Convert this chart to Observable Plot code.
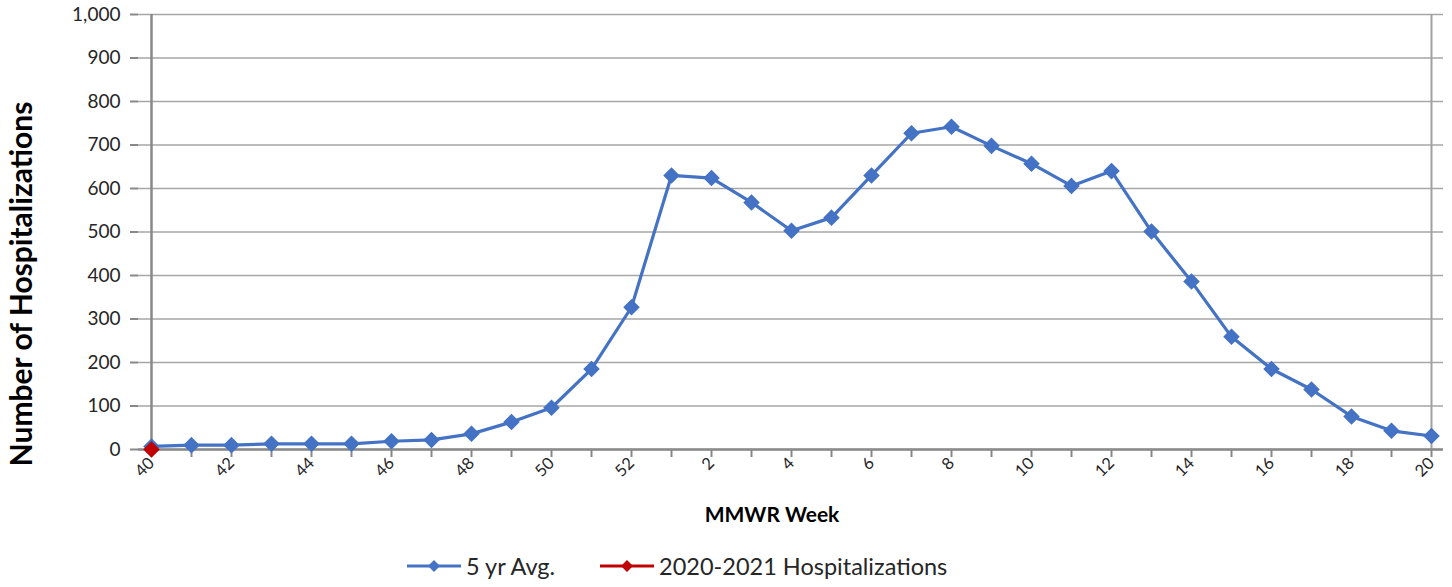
<!DOCTYPE html>
<html>
<head>
<meta charset="utf-8">
<script src="https://cdn.jsdelivr.net/npm/d3@7"></script>
<script src="https://cdn.jsdelivr.net/npm/@observablehq/plot@0.6"></script>
<style>
  html, body { margin: 0; padding: 0; background: #fff; }
  body { width: 1452px; height: 587px; overflow: hidden; font-family: Lato, "Open Sans", sans-serif; }
  #chart { position: relative; }
  #legend { position: absolute; left: 405px; top: 551px; height: 30px; display: flex; align-items: center; font-size: 23.5px; line-height: 30px; color: #262626; white-space: nowrap; }
  .item { display: flex; align-items: center; margin-right: 43px; }
  .item svg { margin-right: 3px; }
</style>
</head>
<body>
<div id="chart"></div>
<div id="legend"></div>
<script>
const weeks = ["40","41","42","43","44","45","46","47","48","49","50","51","52",
  "1","2","3","4","5","6","7","8","9","10","11","12","13","14","15","16","17","18","19","20"];
const avgValues = [7,10,10,13,13,13,19,22,36,63,96,185,327,
  630,624,568,503,533,630,727,742,698,657,606,640,501,386,259,185,138,76,43,31];
const seasonWeeks = ["40"];
const seasonValues = [0];
const yTicks = [0,100,200,300,400,500,600,700,800,900,1000];
const seriesNames = ["5 yr Avg.", "2020-2021 Hospitalizations"];
const seriesColors = ["#4472C4", "#C00000"];

const avgData = weeks.map((w, i) => ({week: w, value: avgValues[i]}));
const seasonData = seasonWeeks.map((w, i) => ({week: w, value: seasonValues[i]}));

const font = "Lato, 'Open Sans', sans-serif";

const plot = Plot.plot({
  width: 1452,
  height: 540,
  marginLeft: 138,
  marginRight: 9,
  marginTop: 14,
  marginBottom: 91,
  style: {fontFamily: font, background: "#fff"},
  x: {type: "point", domain: weeks, padding: 0},
  y: {domain: [0, 1000]},
  marks: [
    Plot.gridY(yTicks, {stroke: "#a6a6a6", strokeOpacity: 1, strokeWidth: 1.3}),
    Plot.ruleX([weeks[weeks.length - 1]], {stroke: "#a0a0a0", strokeWidth: 2}),
    Plot.axisY(yTicks, {tickFormat: d3.format(","), tickSize: 8, tickPadding: 10, fontSize: 19, fill: "#262626", stroke: "#888", strokeWidth: 2, label: null}),
    Plot.axisX(weeks, {tickFormat: d => (+d % 2 === 0 ? d : ""), tickSize: 8, tickPadding: 3, tickRotate: -45, fontSize: 16.5, fill: "#262626", stroke: "#888", strokeWidth: 2, label: null}),
    Plot.ruleY([0], {stroke: "#888", strokeWidth: 2.5}),
    Plot.ruleX([weeks[0]], {stroke: "#888", strokeWidth: 2.5}),
    Plot.line(avgData, {x: "week", y: "value", stroke: seriesColors[0], strokeWidth: 3.2}),
    Plot.dot(avgData, {x: "week", y: "value", symbol: "diamond2", r: 6.5, fill: seriesColors[0], stroke: seriesColors[0]}),
    Plot.line(seasonData, {x: "week", y: "value", stroke: seriesColors[1], strokeWidth: 3.2}),
    Plot.dot(seasonData, {x: "week", y: "value", symbol: "diamond2", r: 6.5, fill: seriesColors[1], stroke: seriesColors[1]}),
    Plot.text(["Number of Hospitalizations"], {frameAnchor: "left", textAnchor: "middle", dx: -116, dy: 52, rotate: -90, fontSize: 30, fontWeight: "bold", fill: "#000"}),
    Plot.text(["MMWR Week"], {frameAnchor: "bottom", textAnchor: "middle", dy: 72, dx: -19, fontSize: 21, fontWeight: "bold", fill: "#000"})
  ]
});
document.getElementById("chart").appendChild(plot);

const legend = document.getElementById("legend");
seriesNames.forEach((name, i) => {
  const item = document.createElement("div");
  item.className = "item";
  item.innerHTML = `<svg width="58" height="16"><line x1="2" y1="8" x2="56" y2="8" stroke="${seriesColors[i]}" stroke-width="3.2"/><path d="M29,2 L35,8 L29,14 L23,8 Z" fill="${seriesColors[i]}"/></svg><span>${name}</span>`;
  legend.appendChild(item);
});
</script>
</body>
</html>
